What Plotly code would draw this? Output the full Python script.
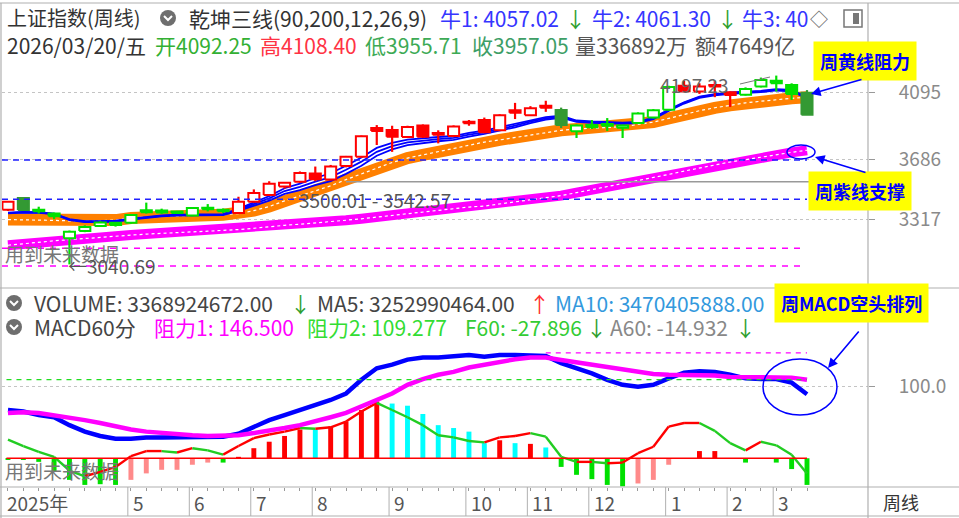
import plotly.graph_objects as go

# ---------------- weekly candles (上证指数 周线) ----------------
week_open = [3375, 3447, 3372, 3352, 3200, 3245, 3276, 3296, 3296, 3360,
             3370, 3360, 3340, 3380, 3375, 3355, 3425, 3466, 3518, 3547,
             3598, 3560, 3643, 3700, 3876, 3864, 3821, 3892, 3845, 3827,
             3905, 3925, 3862, 3985, 3955, 4012, 3986, 3856, 3895, 3900,
             3878, 3907, 3940, 3988, 4135, 4100, 4140, 4095, 4080, 4130,
             4165, 4140, 4092.25]
week_high = [3428, 3452, 3394, 3358, 3248, 3280, 3305, 3300, 3348, 3419,
             3382, 3368, 3390, 3410, 3383, 3455, 3500, 3550, 3545, 3610,
             3640, 3650, 3705, 3830, 3894, 3890, 3890, 3898, 3862, 3892,
             3925, 3940, 3960, 4030, 4010, 4043, 4001, 3898, 3925, 3937,
             3897, 3972, 3992, 4135, 4166, 4150, 4165, 4100, 4125, 4185,
             4197.23, 4150, 4108.40]
week_low = [3368, 3370, 3352, 3318, 3040.69, 3238, 3270, 3272, 3290, 3352,
            3350, 3350, 3335, 3365, 3355, 3350, 3420, 3460, 3505, 3540,
            3550, 3555, 3635, 3695, 3772, 3730, 3815, 3815, 3782, 3820,
            3890, 3845, 3858, 3931, 3950, 3975, 3876, 3815, 3870, 3858,
            3815, 3900, 3935, 3983, 4095, 4085, 4065, 4005, 4075, 4125,
            4100, 4048, 3955.71]
week_close = [3425, 3374, 3366, 3335, 3240, 3270, 3298, 3282, 3343, 3372,
              3358, 3356, 3386, 3378, 3366, 3425, 3478, 3535, 3540, 3600,
              3562, 3640, 3700, 3825, 3858, 3822, 3882, 3822, 3835, 3885,
              3912, 3850, 3955, 3970, 3997, 4000, 3894, 3892, 3880, 3890,
              3892, 3965, 3985, 4128, 4102, 4130, 4130, 4078, 4115, 4170,
              4150, 4085, 3957.05]
# r = red, g = green, d = dark green
candle_tone = ['r', 'd', 'g', 'g', 'g', 'g', 'g', 'g', 'g', 'g',
               'g', 'g', 'g', 'g', 'g', 'r', 'r', 'r', 'r', 'r',
               'r', 'r', 'r', 'r', 'r', 'r', 'r', 'r', 'r', 'r',
               'r', 'r', 'r', 'r', 'r', 'r', 'd', 'g', 'g', 'g',
               'g', 'g', 'g', 'g', 'r', 'r', 'r', 'r', 'g', 'g',
               'g', 'g', 'd']

# 乾坤三线: 牛1/牛2/牛3 (blue), 黄线 (orange), 紫线 (magenta)
bull1 = [3357, 3362, 3360, 3352, 3318, 3305, 3305, 3308, 3321, 3333,
         3341, 3346, 3348, 3348, 3348, 3381, 3420, 3459, 3507, 3535,
         3570, 3599, 3645, 3695, 3754, 3785, 3805, 3815, 3821, 3827,
         3846, 3860, 3880, 3900, 3924, 3943, 3951, 3922, 3916, 3914,
         3909, 3914, 3939, 3989, 4034, 4069, 4084, 4094, 4099, 4104,
         4114, 4109, 4066]
bull2 = [3355, 3360, 3358, 3350, 3315, 3302, 3302, 3305, 3318, 3330,
         3338, 3343, 3345, 3345, 3345, 3375, 3410, 3445, 3490, 3515,
         3548, 3575, 3620, 3670, 3730, 3765, 3788, 3800, 3808, 3815,
         3835, 3850, 3870, 3890, 3915, 3935, 3945, 3918, 3912, 3910,
         3905, 3910, 3935, 3985, 4030, 4065, 4080, 4090, 4095, 4100,
         4110, 4105, 4061.30]
bull3 = [3353, 3358, 3356, 3348, 3312, 3299, 3299, 3302, 3315, 3327,
         3335, 3340, 3342, 3342, 3342, 3369, 3400, 3431, 3473, 3495,
         3526, 3551, 3595, 3645, 3706, 3745, 3771, 3785, 3795, 3803,
         3824, 3840, 3860, 3880, 3906, 3927, 3939, 3914, 3908, 3906,
         3901, 3906, 3931, 3981, 4026, 4061, 4076, 4086, 4091, 4096,
         4106, 4101, 4057.02]
yellow_line = [3315, 3315, 3312, 3310, 3306, 3305, 3308, 3312, 3325, 3332,
               3336, 3338, 3340, 3342, 3345, 3352, 3370, 3395, 3430, 3460,
               3490, 3522, 3560, 3595, 3628, 3665, 3692, 3712, 3733, 3752,
               3772, 3790, 3803, 3818, 3836, 3850, 3862, 3870, 3876, 3880,
               3884, 3898, 3912, 3935, 3960, 3982, 4000, 4015, 4030, 4040,
               4050, 4058, 4064]
purple_line = [3158, 3168, 3177, 3185, 3192, 3200, 3207, 3213, 3220, 3226,
               3232, 3236, 3240, 3244, 3248, 3254, 3262, 3272, 3280, 3287,
               3294, 3302, 3311, 3320, 3330, 3340, 3350, 3362, 3372, 3383,
               3392, 3398, 3410, 3422, 3434, 3446, 3462, 3480, 3498, 3518,
               3535, 3553, 3572, 3592, 3612, 3632, 3650, 3668, 3682, 3698,
               3712, 3727, 3740]
blue_levels = [3680, 3440]
pink_levels = [3139, 3031]
gray_level = 3547

# MACD60分 panel
dif = [67, 65, 60, 57, 46, 37, 31, 27, 27, 29,
       29, 29, 30, 30, 30, 34, 43, 53, 60, 67,
       73, 81, 90, 109, 125, 130, 137, 140, 140, 142.5,
       143.5, 141, 143.5, 143.5, 143.5, 142, 132, 125, 118, 109,
       102, 99.5, 102, 111, 119, 121, 120, 116, 111, 110,
       110, 105, 89]
dea = [63, 64, 63, 60, 57, 53, 49, 44, 40, 37,
       35, 33, 32, 31, 31, 32, 35, 38, 42, 46,
       51, 57, 63, 72, 81, 90, 102, 110, 116, 120,
       126, 130, 134, 137.5, 140, 140, 136.5, 133, 130, 126,
       123, 119.5, 117, 116, 116, 116, 115, 113, 113, 113,
       113, 112, 109]
hist = [-2, -2, -5, -18, -30, -37, -36, -37, -30, -21,
        -16, -16, -9, -6, -6, 2, 14, 23, 31, 40,
        40, 44, 51, 67, 79, 76, 73, 61.5, 46, 42,
        37, 21, 25, 21, 20, 15, -12, -23, -29, -37,
        -39, -35, -30, -9, 0, 10, 10, 0, -6, -1,
        -6, -15, -37]
hist_tone = ['g', 'g', 'g', 'g', 'g', 'g', 'g', 'g', 'p', 'p',
             'p', 'p', 'p', 'p', 'g', 'r', 'r', 'r', 'r', 'r',
             'c', 'r', 'r', 'r', 'r', 'c', 'c', 'c', 'c', 'c',
             'c', 'c', 'r', 'c', 'r', 'c', 'g', 'g', 'g', 'g',
             'g', 'p', 'p', 'p', 'p', 'r', 'r', 'r', 'g', 'g',
             'g', 'g', 'g']
f60 = [26, 17, 9, 2, -17, -25, -19, -12, 3, 10,
       10, 8, 14, 11, 5, 17, 28, 33, 37, 42,
       41, 43, 51, 65, 77, 67, 57, 46, 32, 29,
       24, 22, 29, 31, 35, 30, 2, -5, -5, -7,
       -6, 7, 16, 44, 49, 49, 38, 21, 11, 23,
       18, 5, -21]
resist1 = 146.500
resist2 = 109.277

month_labels = ["2025年", "5", "6", "7", "8", "9", "10", "11", "12", "1", "2", "3"]
month_week = [-0.18, 8, 12, 16, 20, 25, 30, 34, 38, 43, 47, 50]

# ---------------- layout helpers ----------------
FONT = "Noto Sans CJK SC, Noto Sans, sans-serif"
W, H = 959, 518
ML, MR, MT, MB = 2, 91, 0, 31
PW, PH = W - ML - MR, H - MT - MB


def xp(px):
    return (px - ML) / PW


def yp(py):
    return (H - MB - py) / PH


TONE = {'r': '#FF0000', 'g': '#00E000', 'd': '#339933', 'c': '#00FFFF', 'p': '#FF8A8A'}
n = len(week_close)
x = list(range(n))
fig = go.Figure()
skip = dict(hoverinfo='skip', showlegend=False)

# bands
fig.add_trace(go.Scatter(x=x, y=purple_line, mode='lines', line=dict(color='#FF00FF', width=10), **skip))
fig.add_trace(go.Scatter(x=x, y=purple_line, mode='lines', line=dict(color='white', width=1.2, dash='dot'), **skip))
fig.add_trace(go.Scatter(x=x, y=yellow_line, mode='lines', line=dict(color='#FF8000', width=12), **skip))
fig.add_trace(go.Scatter(x=x, y=yellow_line, mode='lines', line=dict(color='white', width=1.2, dash='dot'), **skip))
for b in (bull1, bull2, bull3):
    fig.add_trace(go.Scatter(x=x, y=b, mode='lines', line=dict(color='#0000FF', width=1.8), **skip))

# candles: wicks + bodies
half = 0.36
for tone in ('r', 'g', 'd'):
    wx, wy = [], []
    for i in range(n):
        if candle_tone[i] != tone:
            continue
        top, bot = max(week_open[i], week_close[i]), min(week_open[i], week_close[i])
        wx += [i, i, None, i, i, None]
        wy += [week_high[i], top, None, bot, week_low[i], None]
    fig.add_trace(go.Scatter(x=wx, y=wy, mode='lines', line=dict(color=TONE[tone], width=2.2), **skip))
    for hollow in (True, False):
        bx, by = [], []
        for i in range(n):
            if candle_tone[i] != tone or (week_close[i] > week_open[i]) != hollow:
                continue
            lo, hi = min(week_open[i], week_close[i]), max(week_open[i], week_close[i])
            if hi - lo < 9:
                hi = lo + 9
            bx += [i - half, i + half, i + half, i - half, i - half, None]
            by += [lo, lo, hi, hi, lo, None]
        if bx:
            fig.add_trace(go.Scatter(x=bx, y=by, mode='lines', fill='toself',
                                     fillcolor='white' if hollow else TONE[tone],
                                     line=dict(color=TONE[tone], width=2), **skip))

# MACD panel
fig.add_trace(go.Bar(x=x, y=hist, width=0.32, marker=dict(color=[TONE[t] for t in hist_tone], line_width=0),
                     yaxis='y2', **skip))
fx = {'r': [], 'g': []}
fy = {'r': [], 'g': []}
for i in range(1, n):
    k = 'r' if f60[i] >= f60[i - 1] else 'g'
    fx[k] += [i - 1, i, None]
    fy[k] += [f60[i - 1], f60[i], None]
fig.add_trace(go.Scatter(x=fx['r'], y=fy['r'], mode='lines', line=dict(color='#FF0000', width=2.4), yaxis='y2', **skip))
fig.add_trace(go.Scatter(x=fx['g'], y=fy['g'], mode='lines', line=dict(color='#22CC22', width=2.4), yaxis='y2', **skip))
fig.add_trace(go.Scatter(x=x, y=dif, mode='lines', line=dict(color='#0000FF', width=4.5), yaxis='y2', **skip))
fig.add_trace(go.Scatter(x=x, y=dea, mode='lines', line=dict(color='#FF00FF', width=4.5), yaxis='y2', **skip))

shapes = []
for lv in blue_levels:
    shapes.append(dict(type='line', xref='x', yref='y', x0=-0.39, x1=n - 1, y0=lv, y1=lv,
                       line=dict(color='#2020FF', width=1.5, dash='6px,5px')))
for lv in pink_levels:
    shapes.append(dict(type='line', xref='x', yref='y', x0=-0.39, x1=n - 1.3, y0=lv, y1=lv,
                       line=dict(color='#FF00FF', width=1.5, dash='6px,6px')))
shapes.append(dict(type='line', xref='x', yref='y', x0=22, x1=55.97, y0=gray_level, y1=gray_level,
                   line=dict(color='#999999', width=1.5)))
shapes.append(dict(type='line', xref='x', yref='y2', x0=35, x1=n - 1, y0=resist1, y1=resist1,
                   line=dict(color='#FF00FF', width=1.3, dash='5px,5px')))
shapes.append(dict(type='line', xref='x', yref='y2', x0=-0.1, x1=n - 1, y0=resist2, y1=resist2,
                   line=dict(color='#22DD22', width=1.3, dash='5px,5px')))
shapes.append(dict(type='line', xref='x', yref='y2', x0=-0.1, x1=n - 1, y0=0, y1=0,
                   line=dict(color='#FF0000', width=1.5)))

# frame lines
GRAY = '#B0B0B0'
for py in (3, 288, 487, 516):
    shapes.append(dict(type='line', xref='paper', yref='paper', x0=xp(0), x1=xp(959), y0=yp(py), y1=yp(py),
                       line=dict(color=GRAY, width=1.2)))
for pxv in (1, 868):
    shapes.append(dict(type='line', xref='paper', yref='paper', x0=xp(pxv), x1=xp(pxv), y0=yp(518), y1=yp(3),
                       line=dict(color=GRAY, width=1.2)))
for pos in month_week[1:]:
    shapes.append(dict(type='line', xref='x', yref='paper', x0=pos - 0.2, x1=pos - 0.2, y0=yp(516), y1=yp(487),
                       line=dict(color=GRAY, width=1)))

# header icons
for cx, cy in ((168, 18), (14, 303), (14, 327)):
    shapes.append(dict(type='circle', xref='paper', yref='paper', x0=xp(cx - 8), x1=xp(cx + 8),
                       y0=yp(cy + 8), y1=yp(cy - 8), fillcolor='#6E6E6E', line=dict(width=0)))
    shapes.append(dict(type='path', xref='paper', yref='paper',
                       path=f"M {xp(cx - 4)},{yp(cy - 2)} L {xp(cx)},{yp(cy + 2)} L {xp(cx + 4)},{yp(cy - 2)}",
                       line=dict(color='white', width=2)))
shapes.append(dict(type='rect', xref='paper', yref='paper', x0=xp(844), x1=xp(862), y0=yp(27), y1=yp(10),
                   line=dict(color='#777777', width=1.5)))
shapes.append(dict(type='rect', xref='paper', yref='paper', x0=xp(853), x1=xp(859), y0=yp(24), y1=yp(13),
                   fillcolor='#777777', line=dict(width=0)))
# high marker leader
shapes.append(dict(type='line', xref='paper', yref='paper', x0=xp(740), x1=xp(770), y0=yp(84), y1=yp(77),
                   line=dict(color='#777777', width=1)))
# ellipses
shapes.append(dict(type='circle', xref='paper', yref='paper', x0=xp(787), x1=xp(815), y0=yp(159), y1=yp(145),
                   line=dict(color='#0000FF', width=1.5)))
shapes.append(dict(type='circle', xref='paper', yref='paper', x0=xp(763), x1=xp(837), y0=yp(415), y1=yp(359),
                   line=dict(color='#0000FF', width=1.5)))

ann = []


def txt(px, py, s, color='#333333', size=21, anchor='left', bold=False):
    ann.append(dict(xref='paper', yref='paper', x=xp(px), y=yp(py), text=f"<b>{s}</b>" if bold else s,
                    showarrow=False, xanchor=anchor, yanchor='middle',
                    font=dict(family=FONT, size=size, color=color)))


# header line 1
txt(5, 18, "上证指数(周线)", size=20)
txt(187, 18, "乾坤三线(90,200,12,26,9)")
txt(438, 18, "牛1: 4057.02", '#3535FF')
txt(563, 18, "↓", '#2E9E2E')
txt(590, 18, "牛2: 4061.30", '#3535FF')
txt(715, 18, "↓", '#2E9E2E')
txt(740, 18, "牛3: 40", '#3535FF')
txt(808, 18, "◇", '#666666', 18)
# header line 2
txt(5, 45, "2026/03/20/五")
txt(153, 45, "开4092.25", '#33B033')
txt(258, 45, "高4108.40", '#FF3344')
txt(363, 45, "低3955.71", '#3DAA55')
txt(470, 45, "收3957.05", '#3D9E66')
txt(573, 45, "量336892万", '#555555')
txt(693, 45, "额47649亿", '#555555')
# volume / macd headers
txt(32, 303, "VOLUME: 3368924672.00", '#444444')
txt(288, 303, "↓", '#2E9E2E')
txt(315, 303, "MA5: 3252990464.00", '#444444')
txt(527, 303, "↑", '#FF3030')
txt(553, 303, "MA10: 3470405888.00", '#3399DD')
txt(32, 327, "MACD60分", '#444444')
txt(152, 327, "阻力1: 146.500", '#FF00FF')
txt(305, 327, "阻力2: 109.277", '#33DD33')
txt(463, 327, "F60: -27.896", '#33CC33')
txt(584, 327, "↓", '#2E9E2E')
txt(608, 327, "A60: -14.932", '#888888')
txt(733, 327, "↓", '#2E9E2E')
# chart labels
txt(3, 253, "用到未来数据", '#777777', 19)
txt(3, 470, "用到未来数据", '#777777', 19)
txt(66, 265, "←3040.69", '#555555', 19)
txt(297, 199, "3500.01 - 3542.57", '#555555', 19)
txt(658, 85, "4197.23", '#666666', 19)
txt(901, 502, "周线", '#333333', 18, 'center')
for lab, pos in zip(month_labels, month_week):
    ann.append(dict(xref='x', yref='paper', x=pos - 0.2, y=yp(502), text=lab, showarrow=False,
                    xanchor='left', yanchor='middle', xshift=3,
                    font=dict(family=FONT, size=19, color='#555555')))

# yellow call-outs and arrows
for s, cx, cy in (("周黄线阻力", 865, 61), ("周紫线支撑", 860, 191), ("周MACD空头排列", 851, 303)):
    ann.append(dict(xref='paper', yref='paper', x=xp(cx), y=yp(cy), text=f"<b>{s}</b>", showarrow=False,
                    xanchor='center', yanchor='middle', bgcolor='#FFFF00', borderpad=6,
                    font=dict(family=FONT, size=18, color='#0000FF')))
for hx, hy, tx, ty in ((811, 94, 863, 79), (815, 157, 867, 173), (828, 368, 860, 330)):
    ann.append(dict(xref='paper', yref='paper', x=xp(hx), y=yp(hy), ax=tx - hx, ay=ty - hy, text='',
                    showarrow=True, arrowhead=2, arrowsize=1.2, arrowwidth=1.6, arrowcolor='#0000FF'))

fig.update_layout(
    width=W, height=H, margin=dict(l=ML, r=MR, t=MT, b=MB),
    paper_bgcolor='white', plot_bgcolor='white', showlegend=False,
    font=dict(family=FONT), barmode='overlay',
    xaxis=dict(range=[-0.39, 55.97], anchor='y2', showgrid=False, zeroline=False,
               tickvals=x, ticks='outside', ticklen=3, tickcolor='#999999', showticklabels=False),
    yaxis=dict(domain=[yp(288), yp(10)], range=[2896, 4599], side='right', anchor='x',
               tickvals=[3317, 3686, 4095], ticktext=['3317', '3686', '4095'],
               showgrid=True, gridcolor='#C4C4C4', griddash='dot', gridwidth=1.2, zeroline=False,
               ticks='outside', ticklen=6, tickcolor='#999999', ticklabelstandoff=20,
               tickfont=dict(size=19, color='#8A8A8A')),
    yaxis2=dict(domain=[0, yp(290)], range=[-39.9, 233.7], side='right', anchor='x',
                tickvals=[100], ticktext=['100.0'],
                showgrid=True, gridcolor='#C4C4C4', griddash='dot', gridwidth=1.2, zeroline=False,
                ticks='outside', ticklen=6, tickcolor='#999999', ticklabelstandoff=20,
                tickfont=dict(size=19, color='#8A8A8A')),
    shapes=shapes, annotations=ann,
)

fig.write_html("out.html", config={'displayModeBar': False},
               post_script="document.body.style.margin='0';")
